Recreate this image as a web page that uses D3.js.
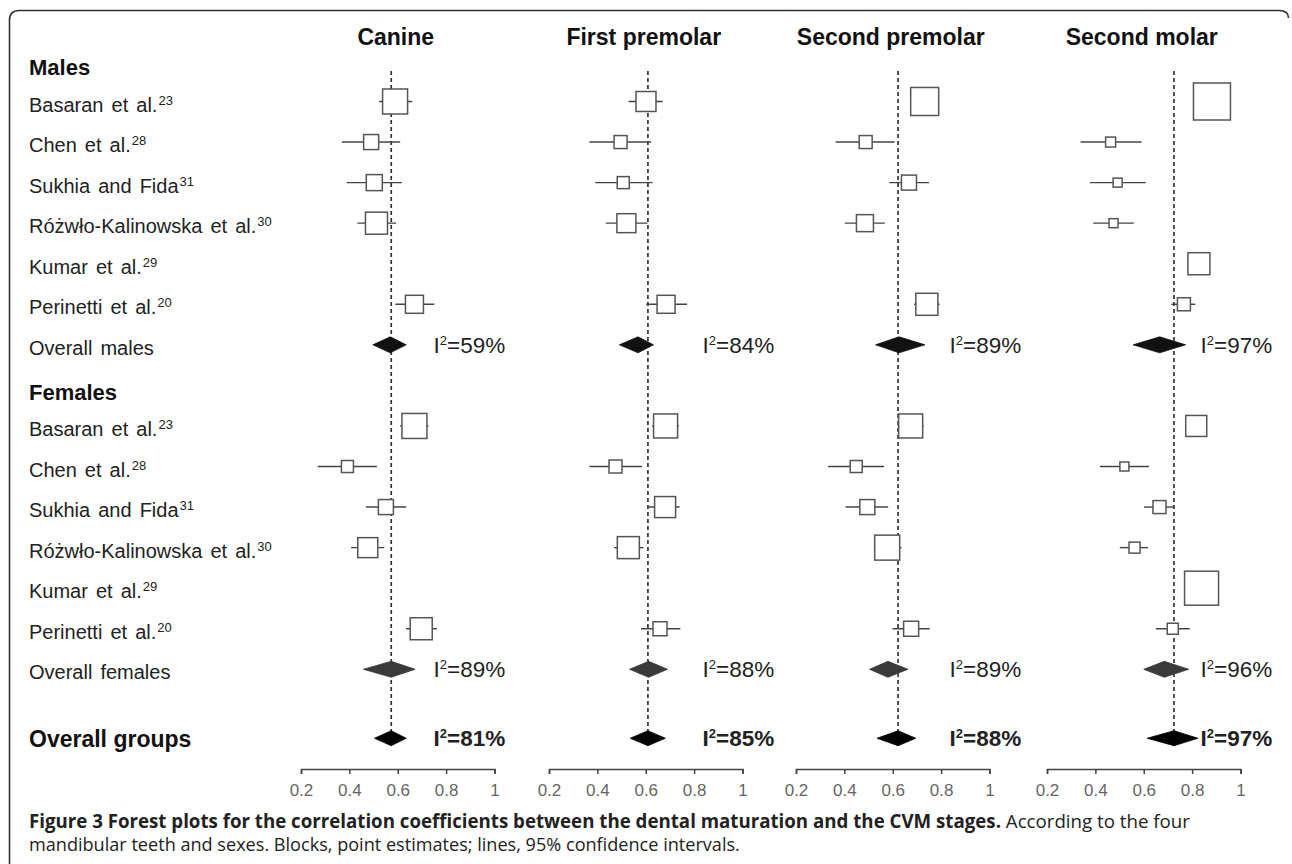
<!DOCTYPE html>
<html><head><meta charset="utf-8">
<script src="https://cdn.jsdelivr.net/npm/d3@7"></script>
<style>
html,body{margin:0;padding:0;background:#fff;}
svg{display:block;}
</style></head>
<body>
<svg id="chart" width="1292" height="864"></svg>
<script>
// ---------------- DATA ----------------
const panels = ["Canine", "First premolar", "Second premolar", "Second molar"];
const studies = ["Basaran et al.", "Chen et al.", "Sukhia and Fida", "Różwło-Kalinowska et al.", "Kumar et al.", "Perinetti et al."];
const studyRefs = ["23", "28", "31", "30", "29", "20"];
const tickValues = [0.2, 0.4, 0.6, 0.8, 1];

// rows: panel -> study (null = no estimate)
const malesEst = [
  [0.589, 0.490, 0.503, 0.512, null, 0.669],
  [0.601, 0.496, 0.507, 0.520, null, 0.684],
  [0.732, 0.488, 0.667, 0.485, null, 0.741],
  [0.882, 0.463, 0.492, 0.475, 0.828, 0.766]
];
const malesLow = [
  [0.523, 0.369, 0.389, 0.433, null, 0.590],
  [0.529, 0.367, 0.391, 0.435, null, 0.602],
  [0.715, 0.364, 0.585, 0.402, null, 0.688],
  [0.860, 0.339, 0.377, 0.391, 0.810, 0.714]
];
const malesHigh = [
  [0.660, 0.610, 0.617, 0.593, null, 0.751],
  [0.670, 0.622, 0.628, 0.607, null, 0.771],
  [0.750, 0.608, 0.750, 0.567, null, 0.794],
  [0.900, 0.591, 0.608, 0.559, 0.850, 0.813]
];
const malesWeight = [
  [46.3, 16.7, 19.0, 35.9, null, 24.0],
  [29.6, 12.5, 10.7, 26.7, null, 24.0],
  [58.1, 12.5, 16.7, 21.4, null, 35.9],
  [101.4, 7.4, 6.0, 6.0, 35.9, 12.5]
];
const femalesEst = [
  [0.669, 0.392, 0.551, 0.476, null, 0.697],
  [0.682, 0.475, 0.680, 0.528, null, 0.659],
  [0.674, 0.449, 0.495, 0.577, null, 0.676],
  [0.817, 0.520, 0.665, 0.562, 0.839, 0.720]
];
const femalesLow = [
  [0.610, 0.269, 0.468, 0.407, null, 0.634],
  [0.626, 0.367, 0.609, 0.469, null, 0.580],
  [0.620, 0.333, 0.405, 0.522, null, 0.599],
  [0.800, 0.419, 0.601, 0.501, 0.820, 0.650]
];
const femalesHigh = [
  [0.727, 0.514, 0.635, 0.544, null, 0.762],
  [0.737, 0.584, 0.740, 0.591, null, 0.743],
  [0.728, 0.564, 0.581, 0.636, null, 0.753],
  [0.835, 0.622, 0.724, 0.618, 0.860, 0.790]
];
const femalesWeight = [
  [46.3, 10.7, 16.7, 29.6, null, 35.9],
  [42.7, 12.5, 32.7, 35.9, null, 14.5],
  [42.7, 10.7, 16.7, 46.3, null, 16.7],
  [32.7, 6.0, 12.5, 9.0, 85.6, 9.0]
];
// overall: [estimate, lower, upper] per panel
const overallMales = [[0.569, 0.497, 0.635], [0.568, 0.491, 0.632], [0.626, 0.529, 0.733], [0.666, 0.556, 0.773]];
const overallFemales = [[0.573, 0.458, 0.672], [0.612, 0.533, 0.690], [0.580, 0.504, 0.663], [0.685, 0.600, 0.786]];
const overallGroups = [[0.573, 0.504, 0.635], [0.609, 0.536, 0.681], [0.622, 0.535, 0.695], [0.725, 0.614, 0.824]];
const i2Males = [59, 84, 89, 97];
const i2Females = [89, 88, 89, 96];
const i2Groups = [81, 85, 88, 97];

// ---------------- LAYOUT ----------------
const svg = d3.select("#chart");
const labelFont = "'Liberation Sans', Arial, Helvetica, sans-serif";
const panelLeft = [301, 549, 796, 1047];
const panelWidth = 193.5;
const i2Offset = [-61, -40, -40, -40];
const y = d3.scaleLinear().domain([1, 15]).range([101.5, 669.3]);
const rowGroups = 16.7;
const sizeScale = d3.scaleSqrt().domain([0, 100]).range([0, 36.74]);

// frame
svg.append("path")
  .attr("d", "M9.5,864 V20 Q9.5,10.5 19.5,10.5 H1279 Q1288.5,10.5 1288.5,18")
  .attr("fill", "none").attr("stroke", "#333").attr("stroke-width", 1.6);

// left labels
const lab = svg.append("g").attr("font-family", labelFont).attr("fill", "#222");
function header(text, yy, size) {
  lab.append("text").attr("x", 29).attr("y", yy).attr("font-size", size)
    .attr("font-weight", "bold").attr("fill", "#111").text(text);
}
header("Males", y(0) + 14, 22);
header("Females", y(8) + 15, 22);
function studyLabel(i, row) {
  const t = lab.append("text").attr("x", 29).attr("y", y(row) + 10)
    .attr("font-size", 20).attr("word-spacing", 2.5);
  t.append("tspan").text(studies[i]);
  t.append("tspan").attr("font-size", 13).attr("dy", -7).attr("dx", 1).text(studyRefs[i]);
}
studies.forEach((s, i) => { studyLabel(i, 1 + i); studyLabel(i, 9 + i); });
lab.append("text").attr("x", 29).attr("y", y(7) + 10).attr("font-size", 20).attr("word-spacing", 2.5).text("Overall males");
lab.append("text").attr("x", 29).attr("y", y(15) + 10).attr("font-size", 20).attr("word-spacing", 2.5).text("Overall females");
lab.append("text").attr("x", 29).attr("y", y(rowGroups) + 8.5).attr("font-size", 23)
  .attr("font-weight", "bold").attr("fill", "#111").text("Overall groups");

// panels
panels.forEach((name, p) => {
  const x = d3.scaleLinear().domain([0.2, 1]).range([panelLeft[p], panelLeft[p] + panelWidth]);
  const g = svg.append("g");

  g.append("text").attr("x", (panelLeft[p] + panelLeft[p] + panelWidth) / 2 - 2).attr("y", 45)
    .attr("text-anchor", "middle").attr("font-family", labelFont).attr("font-weight", "bold")
    .attr("font-size", 23).attr("fill", "#111").text(name);

  // reference dashed line at overall estimate
  g.append("line")
    .attr("x1", x(overallGroups[p][0])).attr("x2", x(overallGroups[p][0]))
    .attr("y1", 71).attr("y2", y(rowGroups))
    .attr("stroke", "#333").attr("stroke-width", 1.7).attr("stroke-dasharray", "4,3");

  function studyRows(est, lo, hi, w, startRow) {
    est[p].forEach((e, i) => {
      if (e == null) return;
      const yy = y(startRow + i);
      g.append("line").attr("x1", x(lo[p][i])).attr("x2", x(hi[p][i]))
        .attr("y1", yy).attr("y2", yy).attr("stroke", "#444").attr("stroke-width", 1.4);
      const s = sizeScale(w[p][i]);
      g.append("rect").attr("x", x(e) - s / 2).attr("y", yy - s / 2)
        .attr("width", s).attr("height", s)
        .attr("fill", "#fff").attr("stroke", "#555").attr("stroke-width", 1.5);
    });
  }
  studyRows(malesEst, malesLow, malesHigh, malesWeight, 1);
  studyRows(femalesEst, femalesLow, femalesHigh, femalesWeight, 9);

  function diamond(vals, row, color, h) {
    const yy = y(row);
    const [e, lo, hi] = vals[p];
    g.append("path")
      .attr("d", `M${x(lo)},${yy} L${x(e)},${yy - h / 2} L${x(hi)},${yy} L${x(e)},${yy + h / 2} Z`)
      .attr("fill", color).attr("stroke", color).attr("stroke-width", 0.8);
  }
  diamond(overallMales, 7, "#111", 16);
  diamond(overallFemales, 15, "#3a3a3a", 16);
  diamond(overallGroups, rowGroups, "#000", 15);

  function i2(val, row, bold) {
    const t = g.append("text").attr("x", panelLeft[p] + panelWidth + i2Offset[p]).attr("y", y(row) + 8)
      .attr("font-family", labelFont).attr("font-size", 22.5).attr("fill", "#222")
      .attr("font-weight", bold ? "bold" : "normal");
    t.append("tspan").text("I");
    t.append("tspan").attr("font-size", 13).attr("dy", -8).text("2");
    t.append("tspan").attr("dy", 8).text("=" + val + "%");
  }
  i2(i2Males[p], 7, false);
  i2(i2Females[p], 15, false);
  i2(i2Groups[p], rowGroups, true);

  // axis
  const ax = g.append("g").attr("transform", "translate(0,769)")
    .call(d3.axisBottom(x).tickValues(tickValues)
      .tickFormat(d => d === 1 ? "1" : d3.format(".1f")(d))
      .tickSize(5).tickSizeOuter(5).tickPadding(10));
  ax.select(".domain").attr("stroke", "#444").attr("stroke-width", 1.5);
  ax.selectAll(".tick line").attr("stroke", "#444").attr("stroke-width", 1.5);
  ax.selectAll(".tick text").attr("font-family", labelFont).attr("font-size", 17).attr("fill", "#666");
});

// caption
const cap = svg.append("g").attr("font-family", "'Open Sans', sans-serif").attr("fill", "#222");
const c1 = cap.append("text").attr("x", 29).attr("y", 828).attr("font-size", 18.7);
c1.append("tspan").attr("font-weight", "bold")
  .text("Figure 3 Forest plots for the correlation coefficients between the dental maturation and the CVM stages.");
c1.append("tspan").text(" According to the four");
cap.append("text").attr("x", 29).attr("y", 851).attr("font-size", 18.1)
  .text("mandibular teeth and sexes. Blocks, point estimates; lines, 95% confidence intervals.");
</script>
</body></html>
